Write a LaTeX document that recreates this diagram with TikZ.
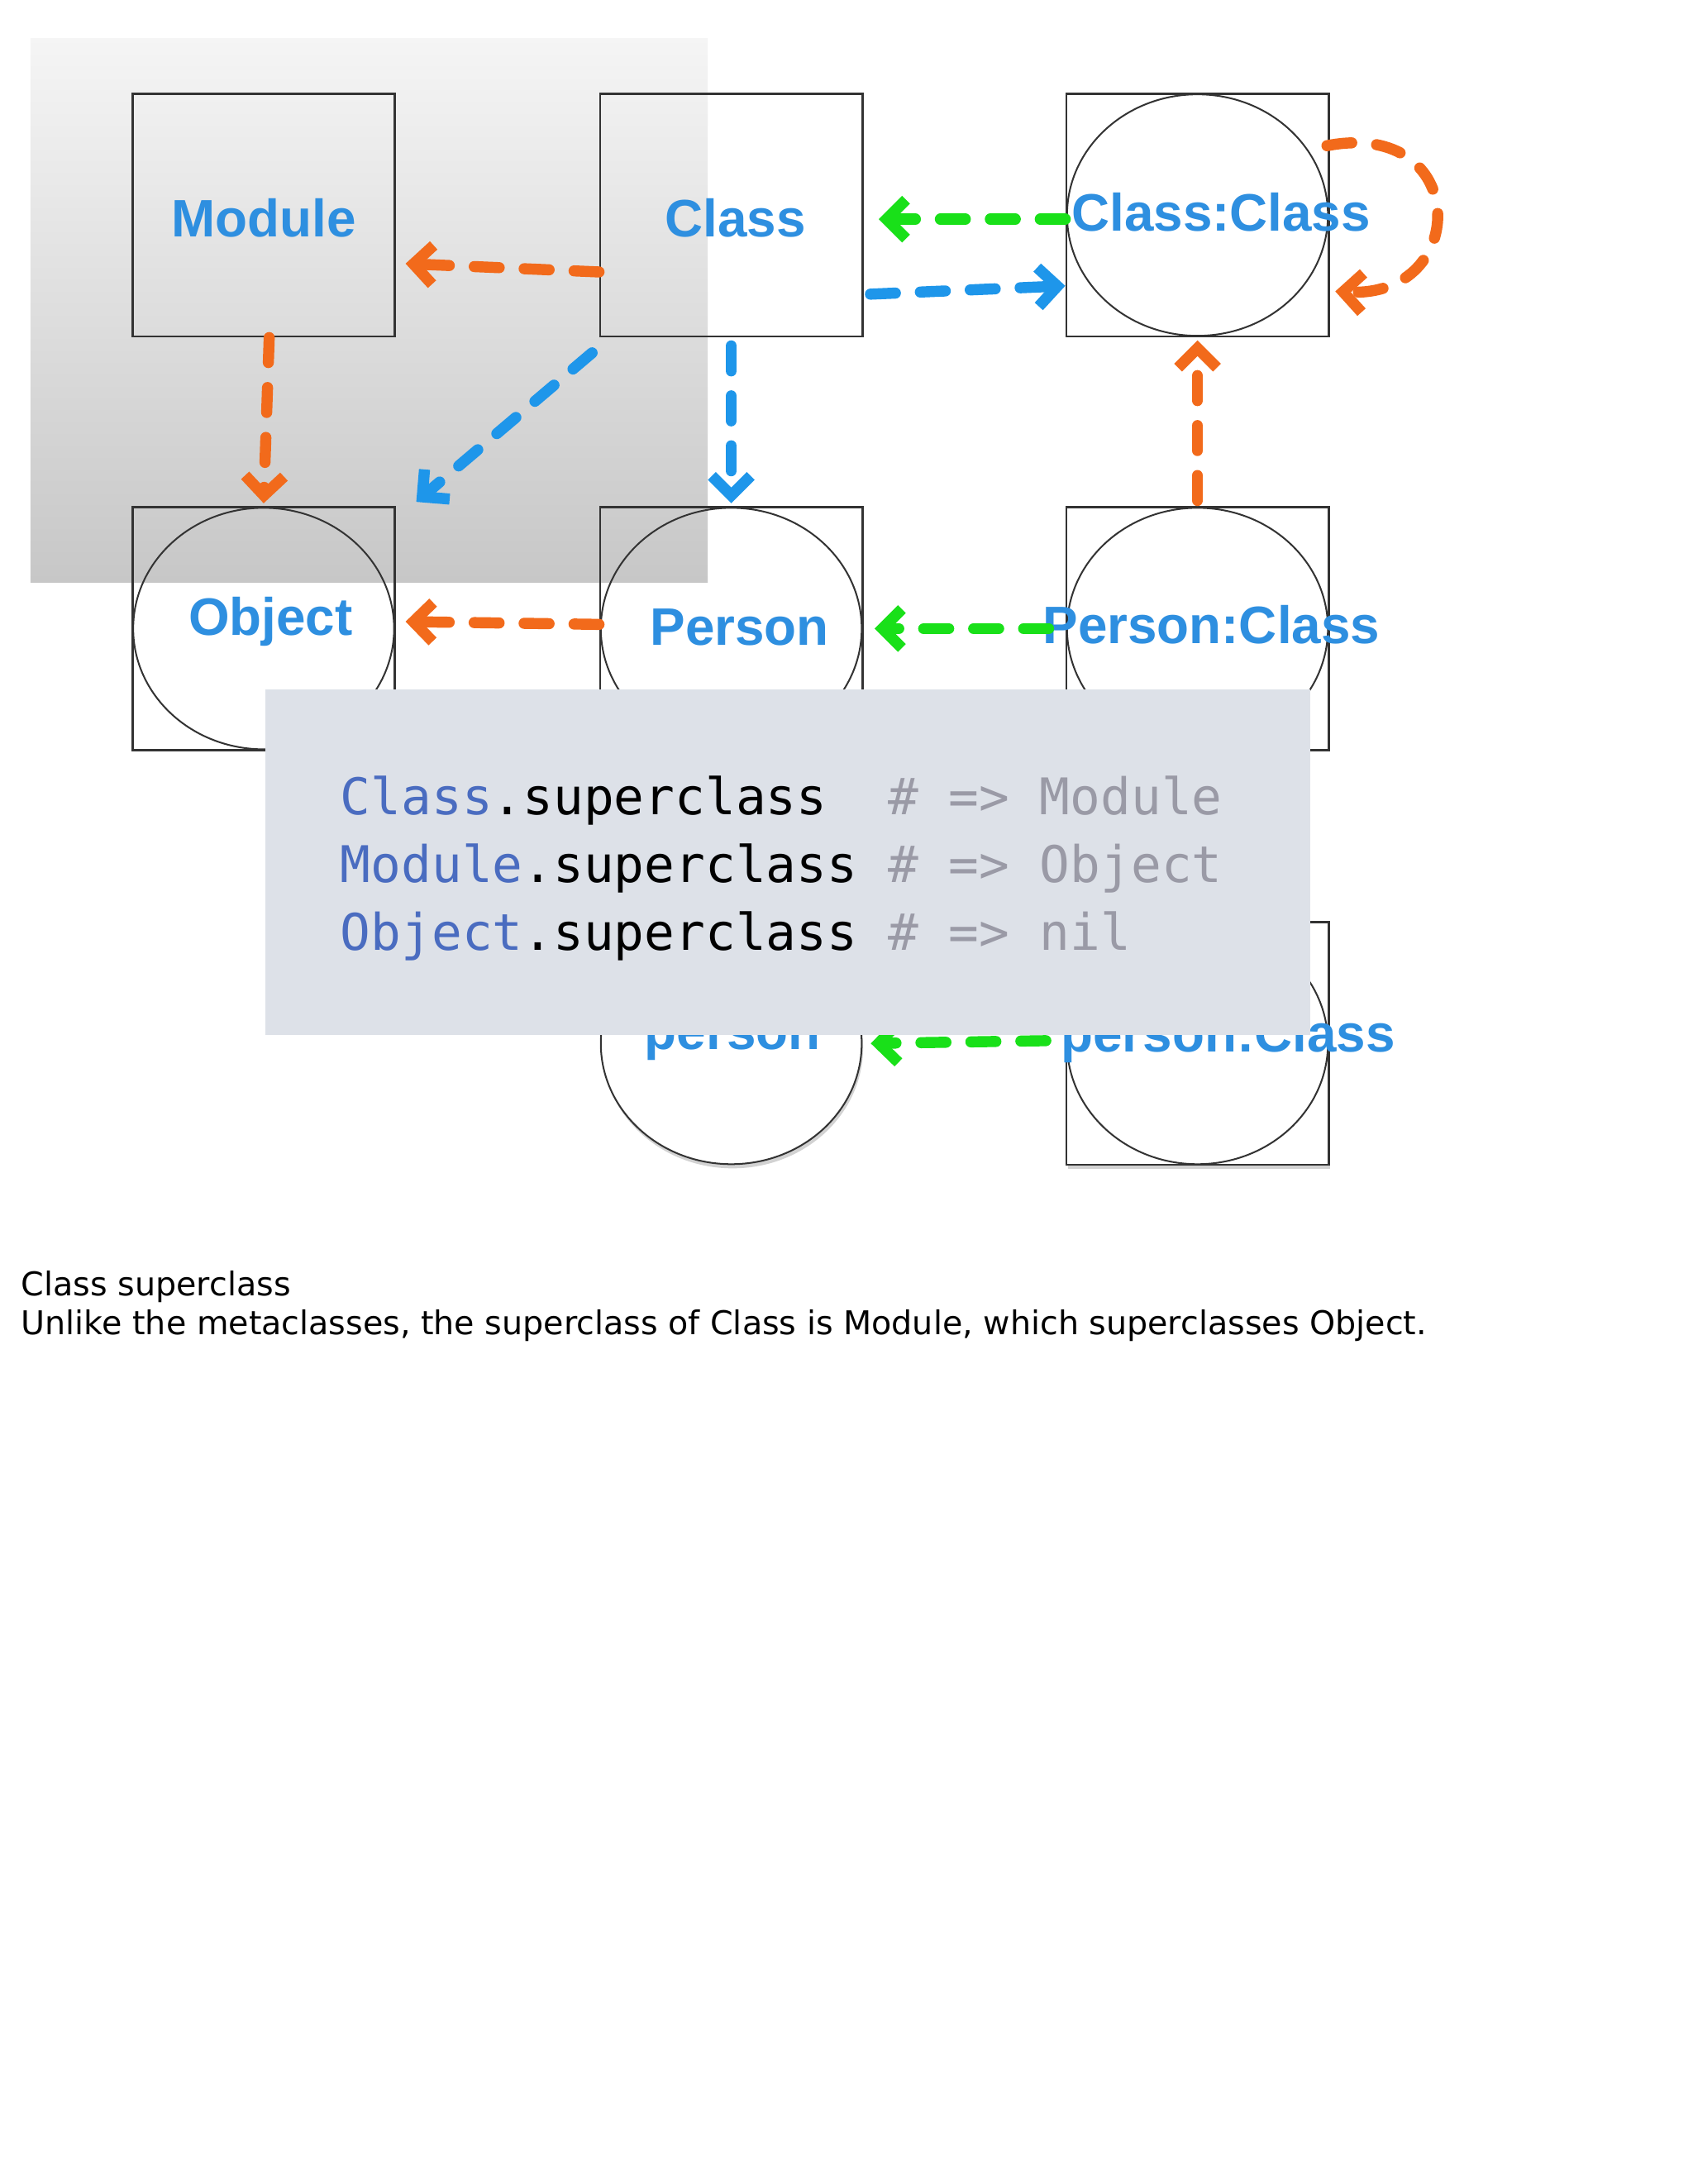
\documentclass[tikz,border=0pt]{standalone}
\usepackage{fontspec}
\setmainfont{DejaVu Sans}
\newfontfamily\lbl{Liberation Sans}
\newfontfamily\codef{DejaVu Sans Mono}
\usetikzlibrary{arrows.meta,shadows,shapes.geometric}
\definecolor{lblue}{HTML}{2E8FE0}
\definecolor{aor}{HTML}{F26A1B}
\definecolor{agr}{HTML}{19E019}
\definecolor{abl}{HTML}{1E96EA}
\definecolor{codebg}{HTML}{DDE1E8}
\definecolor{kw}{HTML}{4A6CC0}
\definecolor{cm}{HTML}{9A9AA6}
\begin{document}
\begin{tikzpicture}[x=0.5pt,y=-0.5pt,
  box/.style={draw=black!80,line width=0.8pt,minimum width=94.5pt,minimum height=87.5pt,inner sep=0pt},
  shd/.style={drop shadow={shadow xshift=0.5pt,shadow yshift=-1.5pt,opacity=0.35}},
  circ/.style={draw=black!80,line width=0.6pt,ellipse,minimum width=94pt,minimum height=87pt},
  lab/.style={text=lblue,font=\lbl\bfseries\fontsize{19}{19}\selectfont},
  arr/.style={line width=4pt,line cap=round,dash pattern=on 9pt off 9pt,-{Straight Barb[length=7pt,width=14pt,line width=4pt]}},
  ]
\useasboundingbox (0,0) rectangle (1220,1574);
\fill[white] (0,0) rectangle (1220,1574);
\shade[top color=black!4,bottom color=black!22] (22,28) rectangle (510,420);
% boxes
\node[box] (module) at (190,155) {};
\node[box] (class) at (527,155) {};
\node[box] (cc) at (863,155) {};
\node[box] (object) at (190,453) {};
\node[box] (person) at (527,453) {};
\node[box] (pc) at (863,453) {};
\node[box,fill=white,shd] (pcl) at (863,752) {};
\draw[black!80,line width=0.6pt] (cc) ellipse (47pt and 43.5pt);
\draw[black!80,line width=0.6pt] (object) ellipse (47pt and 43.5pt);
\draw[black!80,line width=0.6pt] (person) ellipse (47pt and 43.5pt);
\draw[black!80,line width=0.6pt] (pc) ellipse (47pt and 43.5pt);
\draw[black!80,line width=0.6pt] (pcl) ellipse (47pt and 43.5pt);
\node[circ,fill=white,shd] (inst) at (527,752) {};
% labels
\node[lab] at (190,157) {Module};
\node[lab] at (530,157) {Class};
\node[lab] at (880,153) {Class:Class};
\node[lab] at (195,448) {Object};
\node[lab] at (533,452) {Person};
\node[lab] at (873,450) {Person:Class};
\node[lab] at (528,750) {person};
\node[lab] at (885,748) {person:Class};
% orange
\draw[arr,aor] ([yshift=-20.5pt]class.west) -- ([xshift=3.5pt,yshift=-17.5pt]module.east);
\draw[arr,aor] ([xshift=2pt]module.south) -- ([yshift=1pt]object.north);
\draw[arr,aor] ([yshift=1.5pt]person.west) -- ([xshift=3.5pt,yshift=2.5pt]object.east);
\draw[arr,aor] ([yshift=2pt]pc.north) -- ([yshift=-1pt]cc.south);
\draw[arr,aor] ([xshift=-1pt,yshift=25pt]cc.east) .. controls (1060,85) and (1060,215) .. ([xshift=2pt,yshift=-27.5pt]cc.east);
% green
\draw[arr,agr] ([yshift=-1.5pt]cc.west) -- ([xshift=5.5pt,yshift=-1.5pt]class.east);
\draw[arr,agr] ([xshift=-6pt]pc.west) -- ([xshift=4pt]person.east);
\draw[arr,agr] ([xshift=-7pt,yshift=1pt]pcl.west) -- ([xshift=3pt]inst.east);
% blue
\draw[arr,abl] ([xshift=2.5pt,yshift=-28.5pt]class.east) -- ([yshift=-25.5pt]cc.west);
\draw[arr,abl] ([xshift=-2.5pt,yshift=-5.5pt]class.south west) -- ([xshift=55pt,yshift=1.5pt]object.north);
\draw[arr,abl] ([yshift=-3pt]class.south) -- ([yshift=1pt]person.north);
% code box
\node[fill=codebg,minimum width=376.5pt,minimum height=124.5pt,inner sep=0pt] (code) at (567.5,621.5) {};
\begin{scope}[every node/.style={anchor=base west,inner sep=0pt,font=\codef\fontsize{18.2}{18.2}\selectfont}]
\node at (245,587) {\textcolor{kw}{Class}.superclass\ \ \textcolor{cm}{\# => Module}};
\node at (245,636) {\textcolor{kw}{Module}.superclass \textcolor{cm}{\# => Object}};
\node at (245,685) {\textcolor{kw}{Object}.superclass \textcolor{cm}{\# => nil}};
\end{scope}
\begin{scope}[every node/.style={anchor=base west,inner sep=0pt,font=\fontsize{11.8}{11.8}\selectfont}]
\node (t1) at (15,934) {Class superclass};
\node (t2) at (15,962) {Unlike the metaclasses, the superclass of Class is Module, which superclasses Object.};
\end{scope}
\end{tikzpicture}
\end{document}
